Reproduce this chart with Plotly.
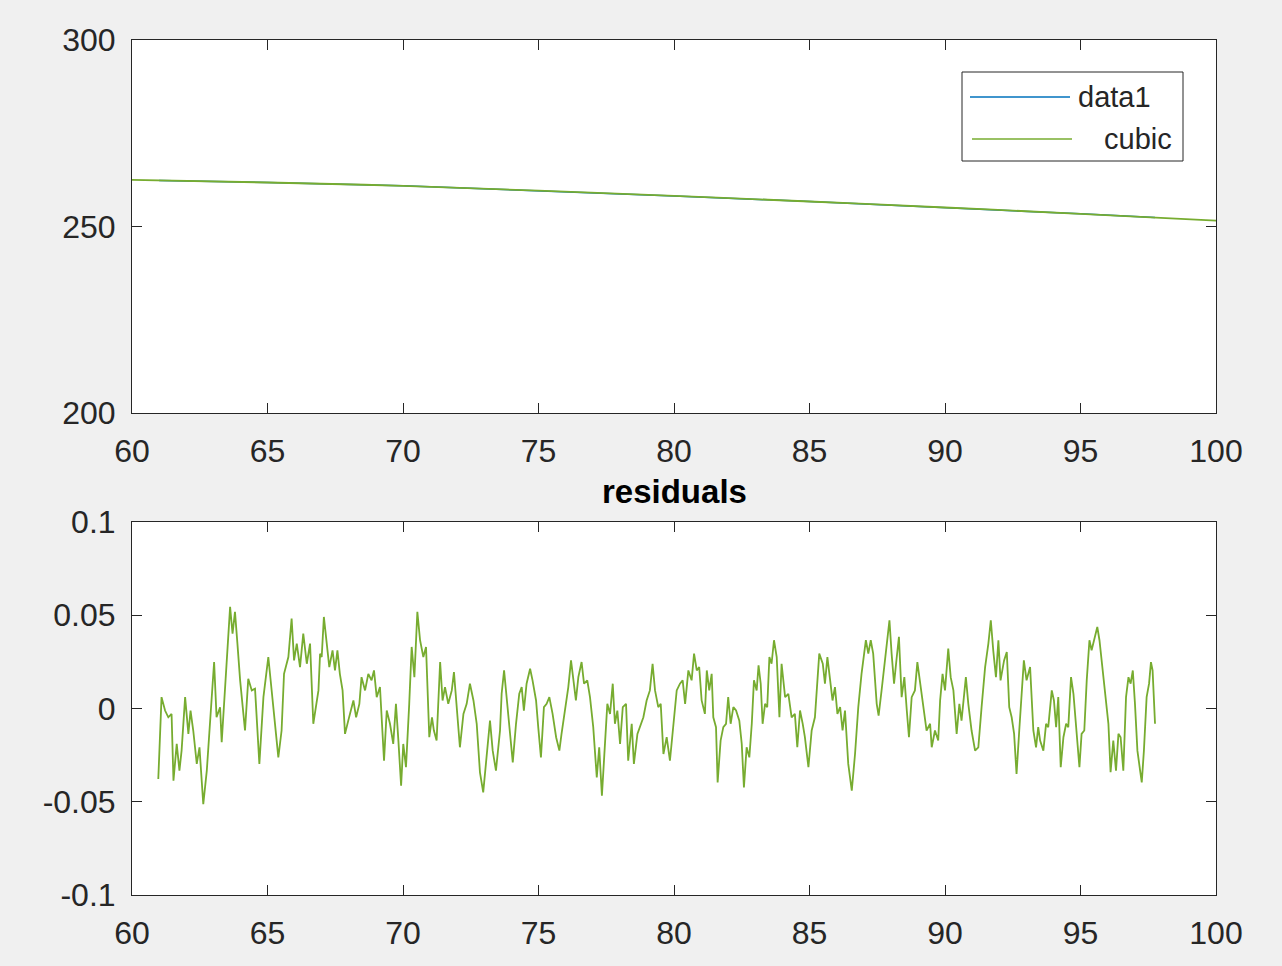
import plotly.graph_objects as go

# ---------------- data ----------------
# top panel: fitted cubic curve and the data it was fitted to
cubic_x = [60, 65, 70, 75, 80, 85, 90, 95, 100]
cubic_y = [262.5, 261.8, 260.9, 259.6, 258.2, 256.7, 255.1, 253.4, 251.6]

data1_x = [61.0, 65, 70, 75, 80, 85, 90, 95, 97.75]
data1_y = [262.35, 261.8, 260.9, 259.6, 258.2, 256.7, 255.1, 253.4, 252.4]

# bottom panel: residuals
res_x = [
    60.97, 61.09, 61.22, 61.34, 61.46, 61.53, 61.65, 61.75, 61.83, 61.96,
    62.08, 62.16, 62.26, 62.39, 62.49, 62.63, 62.76, 62.90, 63.03, 63.12,
    63.25, 63.31, 63.43, 63.52, 63.62, 63.71, 63.80, 63.89, 63.99, 64.17,
    64.29, 64.42, 64.54, 64.70, 64.85, 65.03, 65.15, 65.28, 65.40, 65.52,
    65.61, 65.77, 65.89, 65.98, 66.08, 66.20, 66.32, 66.45, 66.57, 66.69,
    66.88,
    66.94, 67.00, 67.08, 67.18, 67.28, 67.40, 67.49, 67.58, 67.67, 67.77,
    67.86, 67.98, 68.17, 68.27, 68.39, 68.47, 68.60, 68.72, 68.84, 68.93,
    69.03, 69.15, 69.30, 69.40, 69.52, 69.64, 69.74, 69.83, 69.93, 70.01,
    70.11, 70.23, 70.32, 70.42, 70.53, 70.63, 70.75, 70.85, 70.97, 71.07,
    71.14, 71.24, 71.37, 71.46, 71.55, 71.67, 71.80, 71.88, 72.00, 72.10,
    72.23, 72.35, 72.47, 72.60, 72.72, 72.84, 72.96, 73.09, 73.21, 73.31,
    73.43, 73.58,
    73.64, 73.73, 73.82, 73.95, 74.05, 74.17, 74.29, 74.38, 74.46, 74.56,
    74.69, 74.78, 74.91, 74.99, 75.09, 75.20, 75.30, 75.40, 75.52, 75.65,
    75.77, 75.85, 76.01, 76.10, 76.20, 76.29, 76.38, 76.47, 76.59, 76.68,
    76.80, 76.90, 77.02, 77.15, 77.24, 77.34, 77.45, 77.54, 77.64, 77.74,
    77.82, 77.91, 78.01, 78.11, 78.23, 78.31, 78.44, 78.52, 78.65, 78.74,
    78.87, 78.99, 79.11, 79.21, 79.30, 79.42, 79.51, 79.61, 79.73, 79.85,
    79.98, 80.10, 80.22,
    80.32, 80.41, 80.53, 80.65, 80.74, 80.84, 80.93, 81.02, 81.14, 81.21,
    81.30, 81.39, 81.45, 81.55, 81.61, 81.72, 81.82, 81.92, 82.00, 82.09,
    82.19, 82.29, 82.41, 82.50, 82.58, 82.68, 82.78, 82.87, 82.95, 83.05,
    83.12, 83.20, 83.27, 83.36, 83.44, 83.52, 83.60, 83.69, 83.79, 83.89,
    83.97, 84.10, 84.22, 84.34, 84.46, 84.55, 84.65, 84.75, 84.83, 84.96,
    85.08, 85.20, 85.36, 85.49, 85.57, 85.66, 85.76, 85.85, 85.94, 86.03,
    86.13, 86.22, 86.31, 86.43, 86.56, 86.68, 86.80, 86.92,
    87.08, 87.17, 87.26, 87.35, 87.48, 87.55, 87.66, 87.75, 87.85, 87.95,
    88.03, 88.12, 88.22, 88.30, 88.40, 88.50, 88.59, 88.67, 88.77, 88.89,
    88.98, 89.08, 89.20, 89.32, 89.45, 89.51, 89.63, 89.75, 89.82, 89.91,
    90.00, 90.12, 90.21, 90.31, 90.43, 90.53, 90.61, 90.77, 90.86, 90.98,
    91.11, 91.23, 91.35, 91.48, 91.60, 91.69, 91.78, 91.88, 91.97, 92.05,
    92.18, 92.28, 92.37, 92.46, 92.55, 92.64, 92.74, 92.83, 92.91, 93.01,
    93.14, 93.26, 93.36, 93.44,
    93.51, 93.63, 93.73, 93.81, 93.94, 94.02, 94.10, 94.18, 94.27, 94.37,
    94.47, 94.55, 94.65, 94.74, 94.83, 94.96, 95.04, 95.14, 95.23, 95.33,
    95.41, 95.50, 95.62, 95.70, 95.79, 95.90, 96.03, 96.11, 96.21, 96.31,
    96.40, 96.48, 96.58, 96.68, 96.77, 96.85, 96.93, 97.01, 97.10, 97.20,
    97.26, 97.34, 97.44, 97.53, 97.60, 97.66, 97.75,
]
res_y = [
    -0.0378, 0.0061, -0.0011, -0.0047, -0.0029, -0.0387, -0.0190, -0.0333, -0.0226, 0.0061,
    -0.0136, -0.0011, -0.0118, -0.0297, -0.0208, -0.0513, -0.0333, -0.0011, 0.0249, -0.0047,
    0.0007, -0.0181, 0.0115, 0.0276, 0.0545, 0.0401, 0.0518, 0.0348, 0.0151, -0.0118,
    0.0159, 0.0097, 0.0106, -0.0297, 0.0061, 0.0276, 0.0097, -0.0118, -0.0262, -0.0118,
    0.0186, 0.0276, 0.0482, 0.0258, 0.0348, 0.0222, 0.0401, 0.0240, 0.0348, -0.0082,
    0.0097,
    0.0294, 0.0276, 0.0491, 0.0348, 0.0222, 0.0312, 0.0204, 0.0312, 0.0186, 0.0097,
    -0.0136, -0.0065, 0.0043, -0.0047, 0.0025, 0.0168, 0.0097, 0.0186, 0.0151, 0.0204,
    0.0061, 0.0115, -0.0280, -0.0011, -0.0082, -0.0190, 0.0025, -0.0172, -0.0414, -0.0190,
    -0.0315, 0.0025, 0.0330, 0.0168, 0.0518, 0.0366, 0.0276, 0.0330, -0.0154, -0.0047,
    -0.0118, -0.0172, 0.0249, 0.0043, 0.0115, 0.0025, 0.0097, 0.0195, -0.0047, -0.0208,
    -0.0029, 0.0025, 0.0133, 0.0043, -0.0082, -0.0342, -0.0450, -0.0262, -0.0065, -0.0226,
    -0.0333, -0.0118,
    0.0079, 0.0204, 0.0061, -0.0172, -0.0289, -0.0082, 0.0079, 0.0115, -0.0011, 0.0133,
    0.0213, 0.0151, 0.0043, -0.0100, -0.0262, 0.0007, 0.0025, 0.0061, -0.0029, -0.0154,
    -0.0226, -0.0136, 0.0043, 0.0115, 0.0258, 0.0133, 0.0043, 0.0168, 0.0249, 0.0133,
    0.0151, 0.0061, -0.0100, -0.0369, -0.0208, -0.0468, -0.0172, 0.0025, -0.0029, 0.0133,
    -0.0082, -0.0011, -0.0190, 0.0007, 0.0025, -0.0280, -0.0082, -0.0297, -0.0136, -0.0100,
    -0.0047, 0.0043, 0.0097, 0.0240, 0.0097, 0.0007, 0.0025, -0.0244, -0.0154, -0.0280,
    -0.0082, 0.0097, 0.0133,
    0.0151, 0.0025, 0.0204, 0.0151, 0.0294, 0.0204, 0.0222, 0.0043, -0.0029, 0.0204,
    0.0097, 0.0186, -0.0047, -0.0100, -0.0396, -0.0172, -0.0100, -0.0082, 0.0061, -0.0082,
    0.0007, -0.0011, -0.0065, -0.0190, -0.0423, -0.0208, -0.0262, -0.0082, 0.0151, 0.0097,
    0.0231, 0.0133, -0.0082, 0.0025, 0.0007, 0.0276, 0.0240, 0.0366, 0.0276, -0.0047,
    0.0240, 0.0061, 0.0079, -0.0047, -0.0029, -0.0208, -0.0011, -0.0082, -0.0154, -0.0315,
    -0.0118, -0.0047, 0.0294, 0.0240, 0.0133, 0.0276, 0.0168, 0.0043, 0.0115, -0.0029,
    0.0007, -0.0118, -0.0011, -0.0297, -0.0441, -0.0244, 0.0007, 0.0186,
    0.0366, 0.0294, 0.0366, 0.0294, 0.0025, -0.0038, 0.0097, 0.0204, 0.0348, 0.0473,
    0.0294, 0.0133, 0.0276, 0.0384, 0.0061, 0.0168, -0.0011, -0.0154, 0.0061, 0.0097,
    0.0249, 0.0133, 0.0007, -0.0118, -0.0082, -0.0208, -0.0118, -0.0172, 0.0043, 0.0186,
    0.0097, 0.0321, 0.0168, 0.0097, -0.0136, 0.0025, -0.0065, 0.0168, 0.0025, -0.0118,
    -0.0226, -0.0208, 0.0007, 0.0222, 0.0348, 0.0473, 0.0312, 0.0168, 0.0366, 0.0151,
    0.0258, 0.0303, 0.0007, -0.0047, -0.0136, -0.0351, -0.0118, 0.0061, 0.0258, 0.0151,
    0.0222, -0.0118, -0.0208, -0.0100,
    -0.0172, -0.0226, -0.0082, -0.0100, 0.0097, 0.0043, -0.0100, 0.0061, -0.0315, -0.0154,
    -0.0082, -0.0100, 0.0168, 0.0079, -0.0065, -0.0315, -0.0136, -0.0118, 0.0151, 0.0366,
    0.0312, 0.0366, 0.0437, 0.0366, 0.0240, 0.0061, -0.0082, -0.0342, -0.0172, -0.0333,
    -0.0136, -0.0154, -0.0333, 0.0061, 0.0168, 0.0133, 0.0204, 0.0025, -0.0226, -0.0333,
    -0.0396, -0.0226, 0.0061, 0.0133, 0.0249, 0.0204, -0.0082,
]

x_ticks = [60, 65, 70, 75, 80, 85, 90, 95, 100]
top_ticks = [200, 250, 300]
bot_ticks = [-0.1, -0.05, 0, 0.05, 0.1]
bot_ticktext = ["-0.1", "-0.05", "0", "0.05", "0.1"]
legend_labels = ["data1", "cubic"]
title_bottom = "residuals"

# ---------------- styling ----------------
W, H = 1282, 966
BLUE = "#0072BD"
GREEN = "#77AC30"
AX = "#262626"
FONT = "Liberation Sans, Arial, sans-serif"

def fx(p):
    return p / W

def fy(p):
    return 1 - p / H

fig = go.Figure()
fig.add_trace(go.Scatter(x=data1_x, y=data1_y, mode="lines",
                         line=dict(color=BLUE, width=1.5),
                         xaxis="x", yaxis="y", showlegend=False))
fig.add_trace(go.Scatter(x=cubic_x, y=cubic_y, mode="lines",
                         line=dict(color=GREEN, width=1.8, shape="spline"),
                         xaxis="x", yaxis="y", showlegend=False))
fig.add_trace(go.Scatter(x=res_x, y=res_y, mode="lines",
                         line=dict(color=GREEN, width=1.8),
                         xaxis="x2", yaxis="y2", showlegend=False))

axis_common = dict(showline=True, linecolor=AX, linewidth=1, mirror="ticks",
                   ticks="inside", ticklen=10, tickcolor=AX, tickwidth=1,
                   showgrid=False, zeroline=False,
                   tickfont=dict(family=FONT, size=32, color=AX))

xdom = [fx(132), fx(1216)]
fig.update_layout(
    width=W, height=H,
    margin=dict(l=0, r=0, t=0, b=0, autoexpand=False),
    paper_bgcolor="#f0f0f0",
    plot_bgcolor="#ffffff",
    showlegend=False,
    xaxis=dict(domain=xdom, range=[60, 100], tickvals=x_ticks, anchor="y",
               ticklabelstandoff=10, **axis_common),
    yaxis=dict(domain=[fy(413), fy(40)], range=[200, 300], tickvals=top_ticks,
               anchor="x", ticklabelstandoff=9, **axis_common),
    xaxis2=dict(domain=xdom, range=[60, 100], tickvals=x_ticks, anchor="y2",
                ticklabelstandoff=10, **axis_common),
    yaxis2=dict(domain=[fy(895), fy(522)], range=[-0.1, 0.1], tickvals=bot_ticks,
                ticktext=bot_ticktext, anchor="x2", ticklabelstandoff=9,
                **axis_common),
)

# title of the bottom panel
fig.add_annotation(text="<b>%s</b>" % title_bottom, xref="paper", yref="paper",
                   x=fx(674), y=fy(492), xanchor="center", yanchor="middle",
                   showarrow=False, font=dict(family=FONT, size=33, color="#000000"))

# MATLAB-style legend box
fig.add_shape(type="rect", xref="paper", yref="paper",
              x0=fx(962), x1=fx(1183), y0=fy(161), y1=fy(72),
              line=dict(color=AX, width=1), fillcolor="#ffffff")
fig.add_shape(type="line", xref="paper", yref="paper",
              x0=fx(970), x1=fx(1070), y0=fy(97), y1=fy(97),
              line=dict(color=BLUE, width=1.5))
fig.add_shape(type="line", xref="paper", yref="paper",
              x0=fx(972), x1=fx(1072), y0=fy(139), y1=fy(139),
              line=dict(color=GREEN, width=1.5))
fig.add_annotation(text=legend_labels[0], xref="paper", yref="paper",
                   x=fx(1076), y=fy(97), xanchor="left", yanchor="middle",
                   showarrow=False, font=dict(family=FONT, size=29, color=AX))
fig.add_annotation(text=legend_labels[1], xref="paper", yref="paper",
                   x=fx(1174), y=fy(139), xanchor="right", yanchor="middle",
                   showarrow=False, font=dict(family=FONT, size=29, color=AX))

fig.write_html("out.html", config={"displayModeBar": False},
               post_script="document.body.style.margin='0';")
